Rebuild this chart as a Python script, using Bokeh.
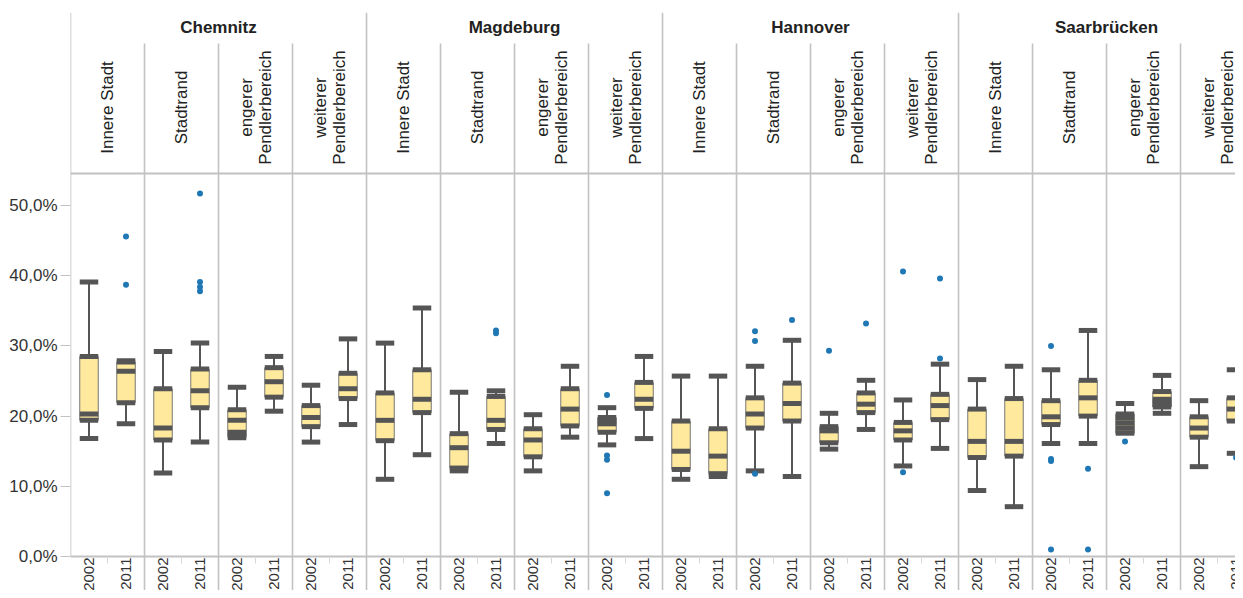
import math
from bokeh.plotting import figure
from bokeh.models import Range1d, FixedTicker, ColumnDataSource
from bokeh.core.properties import value
from bokeh.embed import file_html
from bokeh.resources import INLINE

# ---------------- data ----------------
cities = ["Chemnitz", "Magdeburg", "Hannover", "Saarbrücken"]
areas = ["Innere Stadt", "Stadtrand", "engerer\nPendlerbereich", "weiterer\nPendlerbereich"]
years = ["2002", "2011"]

# one entry per box, order: city -> area -> year  (values in %)
whisker_low = [16.8, 18.9, 11.9, 16.3, 16.9, 20.7, 16.3, 18.8,
               11.0, 14.5, 12.2, 16.1, 12.2, 17.0, 15.9, 16.8,
               11.0, 11.4, 12.2, 11.4, 15.3, 18.1, 12.9, 15.4,
               9.4, 7.1, 16.1, 16.1, 17.6, 20.4, 12.8, 14.7]
quartile1 = [19.4, 21.9, 16.6, 21.2, 17.1, 22.7, 18.5, 22.5,
             16.5, 20.5, 12.6, 18.1, 14.2, 18.6, 17.7, 21.1,
             12.4, 11.8, 18.3, 19.3, 16.2, 20.5, 16.6, 19.5,
             14.1, 14.3, 18.8, 20.0, 17.6, 21.3, 17.0, 19.3]
median = [20.3, 26.4, 18.3, 23.6, 19.4, 24.9, 19.8, 23.9,
          19.4, 22.4, 15.5, 19.4, 16.6, 21.0, 18.9, 22.4,
          15.0, 14.3, 20.3, 21.8, 17.9, 21.7, 17.9, 21.5,
          16.4, 16.4, 19.9, 22.6, 19.0, 22.1, 18.3, 21.0]
quartile3 = [28.5, 27.7, 23.9, 26.7, 20.9, 26.9, 21.5, 26.1,
             23.3, 26.6, 17.5, 22.8, 18.2, 23.9, 19.8, 24.8,
             19.3, 18.2, 22.6, 24.7, 18.5, 23.3, 19.1, 23.1,
             21.0, 22.5, 22.2, 25.1, 20.3, 23.5, 19.9, 22.6]
whisker_high = [39.1, 27.9, 29.2, 30.4, 24.1, 28.5, 24.4, 31.0,
                30.4, 35.4, 23.4, 23.6, 20.2, 27.1, 21.2, 28.5,
                25.7, 25.7, 27.1, 30.8, 20.4, 25.1, 22.3, 27.4,
                25.2, 27.1, 26.6, 32.2, 21.8, 25.8, 22.2, 26.6]
inner_points = [[], [], [], [], [17.7], [], [], [],
                [], [], [], [], [], [], [19.3], [],
                [], [], [], [], [], [], [], [],
                [], [], [], [], [19.7, 18.3], [22.4, 21.7], [], []]
outliers = [[], [45.6, 38.7], [], [51.7, 39.1, 38.4, 37.8], [], [], [], [],
            [], [], [], [32.2, 31.8], [], [], [23.0, 14.4, 13.8, 9.0], [],
            [], [], [32.1, 30.7, 11.8], [33.7], [29.3], [33.2], [40.6, 12.0], [39.6, 28.2],
            [], [], [30.0, 13.9, 13.6, 1.0], [12.5, 1.0], [16.4], [], [], [14.1]]
y_ticks = [0.0, 0.1, 0.2, 0.3, 0.4, 0.5]
y_tick_labels = ["0,0%", "10,0%", "20,0%", "30,0%", "40,0%", "50,0%"]

# ---------------- style ----------------
FONT = "Liberation Sans"
DARK = "#555555"
FILL = "#FFE99C"
GRID = "#c2c2c2"
BLUE = "#1f77b4"
TXT = "#333333"

X_END = 15.743          # visible part of the 16 sub-columns
Y_BOTTOM = -0.0484
Y_TOP = 0.7749
Y_HEADER = 0.5456        # boundary between header and plot area
Y_SUBHDR = 0.7308        # top of the sub-column separators
BOX_W = 0.25

p = figure(width=1235, height=590, output_backend="svg", toolbar_location=None,
           x_range=Range1d(0, X_END), y_range=Range1d(Y_BOTTOM, Y_TOP),
           x_axis_location=None, y_axis_location="left")
p.min_border_left = 70
p.min_border_right = 0
p.min_border_top = 12
p.min_border_bottom = 0
p.outline_line_color = None
p.xgrid.visible = False
p.ygrid.visible = False
p.background_fill_color = "white"
p.border_fill_color = "white"

ax = p.yaxis[0]
ax.ticker = FixedTicker(ticks=y_ticks, minor_ticks=[])
ax.major_label_overrides = {t: l for t, l in zip(y_ticks, y_tick_labels)}
ax.axis_line_color = None
ax.major_tick_in = 0
ax.major_tick_out = 10
ax.major_tick_line_color = GRID
ax.major_tick_line_width = 1
ax.major_label_standoff = 3
ax.major_label_text_font = FONT
ax.major_label_text_font_size = "17px"
ax.major_label_text_color = TXT

# ---------------- grid / frame lines ----------------
sep_x, sep_top, sep_bot = [], [], []
for k in range(0, 16):
    sep_x.append(k)
    sep_top.append(Y_TOP if k % 4 == 0 else Y_SUBHDR)
    sep_bot.append(0 if k == 0 else Y_BOTTOM)
p.segment(x0=sep_x, y0=sep_bot, x1=sep_x, y1=sep_top, line_color=GRID, line_width=1.6)
p.segment(x0=[0, 0], y0=[Y_HEADER, 0], x1=[X_END, X_END], y1=[Y_HEADER, 0],
          line_color=GRID, line_width=2)
mid_x = [k + 0.5 for k in range(16)]
p.segment(x0=mid_x, y0=[0] * 16, x1=mid_x, y1=[-0.010] * 16, line_color="#d8d8d8", line_width=1)

# ---------------- boxes ----------------
xs = [ci * 4 + ai + 0.25 + 0.5 * yi for ci in range(4) for ai in range(4) for yi in range(2)]
f = lambda v: [a / 100.0 for a in v]
src = ColumnDataSource(dict(x=xs, lo=f(whisker_low), q1=f(quartile1), med=f(median),
                            q3=f(quartile3), hi=f(whisker_high)))
p.segment(x0="x", y0="lo", x1="x", y1="hi", source=src, line_color=DARK, line_width=2)
p.vbar(x="x", width=BOX_W, bottom="q1", top="q3", source=src,
       fill_color=FILL, line_color="#777777", line_width=1)

dash_x, dash_y = [], []
for i, x in enumerate(xs):
    vals = [whisker_low[i], whisker_high[i], quartile1[i], quartile3[i], median[i]] + inner_points[i]
    for v in vals:
        dash_x.append(x)
        dash_y.append(v / 100.0)
p.rect(x=dash_x, y=dash_y, width=BOX_W, height=5, height_units="screen",
       fill_color=DARK, line_color=None)

ox, oy = [], []
for i, x in enumerate(xs):
    for v in outliers[i]:
        ox.append(x)
        oy.append(v / 100.0)
p.scatter(x=ox, y=oy, size=6, fill_color=BLUE, line_color=None)

# ---------------- header / labels ----------------
p.text(x=[c * 4 + 2 for c in range(4)], y=[0.7536] * 4, text=cities,
       text_font=value(FONT), text_font_style="bold", text_font_size="17px",
       text_color="#222222", text_align="center", text_baseline="middle")
p.text(x=[c * 4 + a + 0.5 for c in range(4) for a in range(4)], y=[0.6396] * 16,
       text=[areas[a] for c in range(4) for a in range(4)], angle=math.pi / 2,
       text_font=value(FONT), text_font_size="17px", text_color="#222222",
       text_align="center", text_baseline="middle", text_line_height=1.0)
p.text(x=xs, y=[-0.0014] * len(xs), text=[years[i % 2] for i in range(len(xs))],
       angle=math.pi / 2, text_font=value(FONT), text_font_size="15px", text_color=TXT,
       text_align="right", text_baseline="middle")

open("out.html", "w").write(file_html(p, INLINE))
